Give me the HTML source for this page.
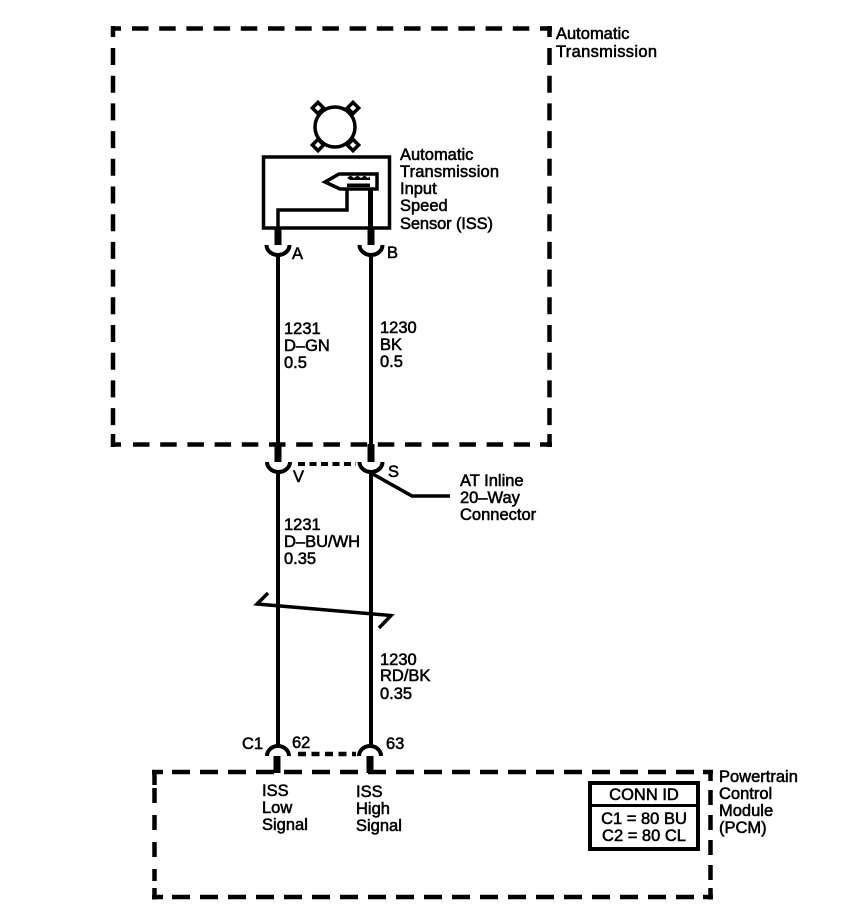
<!DOCTYPE html>
<html>
<head>
<meta charset="utf-8">
<style>
html,body{margin:0;padding:0;background:#fff;width:864px;height:920px;overflow:hidden}
svg{display:block}
text{font-family:"Liberation Sans",sans-serif;font-size:16.5px;fill:#000;stroke:#000;stroke-width:.55px}
.l{fill:none;stroke:#000;stroke-width:4;stroke-linecap:butt}
.d{fill:none;stroke:#000;stroke-width:4.5}
.t{fill:none;stroke:#000;stroke-width:7}
.s{fill:none;stroke:#000;stroke-width:3.5}
.c{fill:none;stroke:#000;stroke-width:4}
</style>
</head>
<body>
<svg width="864" height="920" viewBox="0 0 864 920" xmlns="http://www.w3.org/2000/svg">
<!-- Automatic Transmission dashed box -->
<path class="d" d="M111 28.5H121M113 26V37"/>
<path class="d" d="M540 28.5H552M549.5 26V37"/>
<path class="d" d="M111 444.5H121M113 434V447"/>
<path class="d" d="M540 444.5H552M549.5 434V447"/>
<line class="d" x1="132" y1="28.5" x2="530" y2="28.5" stroke-dasharray="16.5 10.7"/>
<line class="d" x1="133" y1="444.5" x2="530" y2="444.5" stroke-dasharray="16.5 10.7"/>
<line class="d" x1="113" y1="48" x2="113" y2="426" stroke-dasharray="17 10.7"/>
<line class="d" x1="549.5" y1="48" x2="549.5" y2="426" stroke-dasharray="17 10.7"/>

<!-- PCM dashed box -->
<path class="d" d="M152 772H163M154.500 770V785"/>
<path class="d" d="M703 772H713M710.500 770V781"/>
<path class="d" d="M152 897H163M154.500 888V899.500"/>
<path class="d" d="M703 897H713M710.500 888V899.500"/>
<line class="d" x1="172" y1="772" x2="694" y2="772" stroke-dasharray="18 10"/>
<line class="d" x1="172" y1="897" x2="694" y2="897" stroke-dasharray="18 10"/>
<line class="d" x1="154.500" y1="788" x2="154.500" y2="881" stroke-dasharray="15 12"/>
<line class="d" x1="710.500" y1="790" x2="710.500" y2="883" stroke-dasharray="15 10"/>

<!-- Rotor -->
<g fill="#fff" stroke="#000" stroke-width="3.500">
<rect x="314" y="104" width="8" height="8" transform="rotate(45 318 108)"/>
<rect x="349" y="104" width="8" height="8" transform="rotate(45 353 108)"/>
<rect x="314" y="141" width="8" height="8" transform="rotate(45 318 145)"/>
<rect x="349" y="141" width="8" height="8" transform="rotate(45 353 145)"/>
</g>
<circle cx="335" cy="127" r="20" fill="#fff" stroke="#000" stroke-width="3.500"/>

<!-- Sensor -->
<rect class="s" x="263.500" y="157" width="126" height="71"/>
<path class="s" d="M325 182L339 174H377V189H340Z"/>
<path d="M347 178l3.500-2.500 3.500 2.500 3.500-2.500 3.500 2.500 3.500-2.500 3.500 2.500 2-1.500v3.500h-20z" fill="#000"/>
<rect x="347" y="183.500" width="23" height="3.500" fill="#000"/>
<path class="s" d="M347 190V210H278V228"/>
<line x1="370.500" y1="190" x2="370.500" y2="228" stroke="#000" stroke-width="5"/>

<!-- Wires -->
<line class="l" x1="278" y1="255" x2="278" y2="445"/>
<line class="l" x1="371" y1="255" x2="371" y2="445"/>
<line class="l" x1="278" y1="472" x2="278" y2="746"/>
<line class="l" x1="371" y1="472" x2="371" y2="746"/>
<line class="t" x1="278" y1="228" x2="278" y2="245"/>
<line class="t" x1="371" y1="228" x2="371" y2="245"/>
<line class="t" x1="278" y1="444" x2="278" y2="462"/>
<line class="t" x1="371" y1="444" x2="371" y2="462"/>
<line class="t" x1="277" y1="756" x2="277" y2="773"/>
<line class="t" x1="370" y1="756" x2="370" y2="773"/>

<!-- Connector cups -->
<path class="c" d="M266.500 245A11.500 10 0 0 0 289.500 245"/>
<path class="c" d="M359.500 245A11.500 10 0 0 0 382.500 245"/>
<path class="c" d="M267 462A11.500 10 0 0 0 290 462"/>
<path class="c" d="M359.500 462A11.500 10 0 0 0 382.500 462"/>
<path class="c" d="M267 756A11 10 0 0 1 289 756"/>
<path class="c" d="M359 756A11 10 0 0 1 381 756"/>

<!-- Connector dashes -->
<line x1="298" y1="464" x2="356" y2="464" stroke="#000" stroke-width="4" stroke-dasharray="7 4.500"/>
<line x1="298" y1="754" x2="356" y2="754" stroke="#000" stroke-width="4.500" stroke-dasharray="8 5.500"/>

<!-- Leader -->
<path class="s" d="M371 473L412 496H450"/>

<!-- Break -->
<path class="s" d="M268 593L257 604L391 615.500L379 628"/>

<!-- CONN ID -->
<rect x="590" y="783" width="108" height="66" fill="none" stroke="#000" stroke-width="4"/>
<line x1="590" y1="805.500" x2="698" y2="805.500" stroke="#000" stroke-width="3"/>

<!-- Labels -->
<text x="556" y="39">Automatic</text>
<text x="556" y="57" textLength="101">Transmission</text>

<text x="400" y="160">Automatic</text>
<text x="400" y="177" textLength="99">Transmission</text>
<text x="400" y="194">Input</text>
<text x="400" y="211">Speed</text>
<text x="400" y="229" textLength="93">Sensor (ISS)</text>

<text x="292" y="259">A</text>
<text x="387" y="258">B</text>

<text x="284" y="334">1231</text>
<text x="284" y="351">D&#8211;GN</text>
<text x="284" y="368">0.5</text>
<text x="380" y="333">1230</text>
<text x="380" y="350">BK</text>
<text x="380" y="367">0.5</text>

<text x="293" y="482">V</text>
<text x="388" y="477">S</text>
<text x="460" y="486">AT Inline</text>
<text x="460" y="503">20&#8211;Way</text>
<text x="460" y="520">Connector</text>

<text x="284" y="530">1231</text>
<text x="284" y="547">D&#8211;BU/WH</text>
<text x="284" y="564">0.35</text>

<text x="380" y="665">1230</text>
<text x="380" y="681">RD/BK</text>
<text x="380" y="699">0.35</text>

<text x="242" y="749">C1</text>
<text x="292" y="748">62</text>
<text x="386" y="749">63</text>

<text x="262" y="796">ISS</text>
<text x="262" y="813">Low</text>
<text x="262" y="830">Signal</text>
<text x="356" y="797">ISS</text>
<text x="356" y="814">High</text>
<text x="356" y="831">Signal</text>

<text x="719" y="782">Powertrain</text>
<text x="719" y="799">Control</text>
<text x="719" y="816">Module</text>
<text x="719" y="833">(PCM)</text>

<text x="644" y="800" text-anchor="middle">CONN ID</text>
<text x="644" y="824" text-anchor="middle">C1 = 80 BU</text>
<text x="644" y="841" text-anchor="middle">C2 = 80 CL</text>
</svg>
</body>
</html>
